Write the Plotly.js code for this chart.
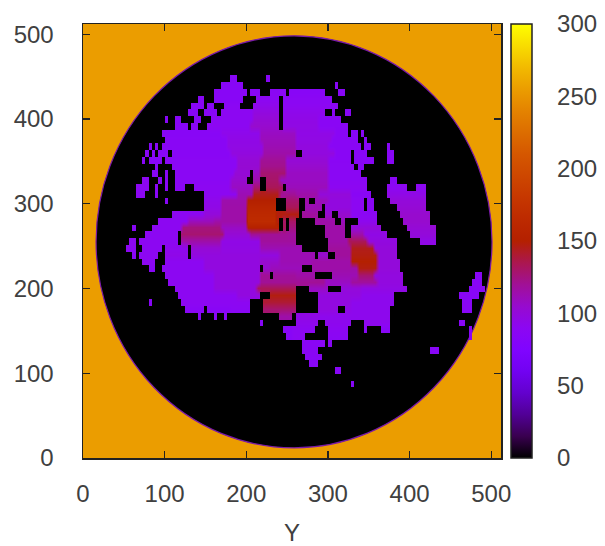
<!DOCTYPE html>
<html><head><meta charset="utf-8">
<script src="https://cdn.plot.ly/plotly-3.0.1.min.js"></script>
<style>html,body{margin:0;padding:0;background:#fff}</style></head>
<body><div id="chart" style="width:605px;height:546px"></div>
<script>
// radar image: each row is a Y value and runs "x0 x1 value"
const radarRows = [
[448,"180 190 85,224 229 85"],
[440,"168 197 85,307 313 85"],
[432,"162 200 85,204 218 85,230 248 88,254 298 85,314 320 85"],
[424,"139 148 85,162 198 85,213 240 90,244 304 88"],
[416,"131 148 85,152 160 85,172 193 88,209 240 93,246 311 90"],
[408,"127 141 85,148 164 85,168 210 90,210 242 98,246 296 93,304 310 85,320 330 85"],
[400,"100 105 85,113 119 85,135 143 85,156 210 90,210 240 102,244 290 95,290 315 87"],
[392,"111 127 85,131 139 85,152 205 90,205 240 105,244 290 96,290 324 87"],
[384,"98 170 85,170 215 93,215 260 108,260 310 95,310 326 86,330 338 85,341 346 85"],
[376,"100 175 86,175 215 95,215 260 110,260 305 96,305 336 86,345 348 85"],
[368,"80 84 85,88 92 85,96 175 86,175 220 96,220 260 112,260 300 98,300 340 86,344 352 85,372 378 85"],
[360,"78 82 85,86 90 85,94 104 85,108 180 86,180 220 98,220 262 115,270 310 98,310 330 86,334 350 85,372 380 85"],
[352,"74 78 85,82 98 85,102 190 88,190 215 102,215 250 120,250 300 102,300 330 87,332 356 85,371 379 85"],
[344,"88 94 85,109 190 88,190 215 103,215 250 122,250 300 105,300 332 88,338 343 85"],
[336,"86 92 85,102 106 85,111 185 88,185 205 102,207 215 108,215 250 128,250 300 108,300 342 88"],
[328,"72 80 90,92 96 85,102 106 85,113 180 88,180 200 105,207 217 115,225 240 130,240 300 108,300 350 88,375 386 86"],
[320,"64 82 90,88 92 85,100 105 85,113 125 88,135 180 90,180 210 108,210 217 128,225 245 133,247 300 110,300 348 90,371 395 90,408 420 90"],
[312,"66 78 90,90 94 85,148 190 90,190 210 112,210 240 145,240 262 120,262 290 115,290 330 100,330 352 86,371 420 95"],
[304,"100 106 85,148 170 93,170 200 114,200 236 150,248 264 128,272 275 115,283 300 110,300 330 98,330 346 90,350 356 86,377 422 100"],
[296,"150 170 95,170 200 115,200 236 158,250 266 133,272 292 112,297 330 98,330 344 90,350 357 86,383 422 102"],
[288,"110 150 90,150 170 100,170 200 115,200 238 163,238 264 147,268 290 118,296 306 105,312 330 105,330 360 88,389 424 105"],
[280,"94 130 90,130 160 110,160 200 115,200 235 166,235 240 147,244 248 130,252 256 130,258 262 130,286 307 115,315 319 110,335 360 92,393 426 105"],
[272,"62 66 85,84 120 90,120 170 125,170 200 108,200 240 153,244 250 133,254 262 125,296 321 115,328 366 100,397 434 102"],
[264,"78 118 90,120 172 128,172 205 102,205 252 120,252 262 118,298 320 115,328 345 115,345 373 95,402 434 100"],
[256,"56 66 90,70 118 90,120 170 115,170 215 95,215 262 118,299 325 115,325 350 133,350 385 98,414 434 95"],
[248,"53 66 90,72 96 90,100 128 92,132 170 102,170 215 96,215 268 112,299 330 118,330 355 145,355 385 100"],
[240,"60 66 85,70 92 90,100 128 94,132 190 98,190 240 98,240 284 112,290 299 105,307 330 118,330 360 147,360 385 100"],
[232,"74 90 90,100 150 90,150 215 98,215 240 105,240 280 112,280 330 115,330 360 150,360 387 100"],
[224,"82 88 85,98 150 90,150 218 98,220 228 105,228 268 110,280 335 115,335 360 147,360 389 100"],
[216,"102 160 90,160 215 98,215 228 120,234 262 118,262 284 115,305 335 112,335 358 128,358 391 98,480 488 85"],
[208,"105 160 90,160 215 98,215 295 120,295 330 108,330 360 118,360 393 98,475 490 85"],
[200,"111 160 90,160 212 98,212 262 133,278 299 108,315 340 100,340 395 96,472 492 85"],
[192,"117 190 90,190 215 98,228 262 147,287 340 98,340 380 92,459 486 85"],
[184,"80 84 85,121 205 90,219 262 140,287 330 98,330 379 92,465 477 85"],
[176,"125 150 86,154 180 86,182 205 88,219 262 128,287 312 98,322 330 95,330 377 92,465 477 85"],
[168,"139 143 85,160 166 85,174 178 85,240 258 115,262 289 95,290 377 92"],
[160,"215 220 85,232 234 85,262 289 93,297 330 92,345 377 92,461 467 85"],
[152,"246 256 85,258 283 90,299 326 90,344 349 85,365 375 85,471 477 85"],
[144,"248 258 85,256 274 90,299 326 88,471 477 85"],
[136,"268 297 86,302 305 85"],
[128,"270 289 86,424 438 85"],
[120,"272 293 86"],
[112,"276 289 85"],
[104,"307 315 85"],
[88,"328 334 85"]
];
const xTicks = [0,100,200,300,400,500];
const yTicks = [0,100,200,300,400,500];
const barTicks = [0,50,100,150,200,250,300];
const backgroundColor = "#eb9d00";
const palette = [
[0,"rgb(0,0,0)"],[0.05,"rgb(57,0,79)"],[0.1,"rgb(81,0,150)"],[0.15,"rgb(99,1,206)"],
[0.2,"rgb(114,2,242)"],[0.25,"rgb(128,4,255)"],[0.3,"rgb(140,7,242)"],[0.35,"rgb(151,11,206)"],
[0.4,"rgb(161,16,150)"],[0.45,"rgb(171,23,79)"],[0.5,"rgb(180,32,0)"],[0.55,"rgb(189,42,0)"],
[0.6,"rgb(198,55,0)"],[0.7,"rgb(213,87,0)"],[0.8,"rgb(228,131,0)"],[0.85,"rgb(235,157,0)"],
[0.9,"rgb(242,186,0)"],[1,"rgb(255,255,0)"]
];
const cols=[],rows=[];
for(let x=0;x<=512;x+=4)cols.push(x+2);
for(let y=0;y<=512;y+=8)rows.push(y);
const z=rows.map(()=>cols.map(()=>null));
radarRows.forEach(([y,s])=>{
  const r=rows.indexOf(y);
  s.split(",").forEach(t=>{
    const [a,b,v]=t.split(" ").map(Number);
    cols.forEach((c,i)=>{if(c>=a&&c<b)z[r][i]=v;});
  });
});
const font={family:"Liberation Sans, Arial, sans-serif",size:24,color:"#404040"};
const axis={range:[0,512],showgrid:false,zeroline:false,ticks:"inside",ticklen:7,tickwidth:1.3,tickcolor:"#222",
  showline:true,linecolor:"#222",linewidth:1.5,mirror:"ticks",tickmode:"array",tickfont:font,layer:"above traces"};
const barX0=1.0239, barX1=1.0742;
const shapes=[{type:"circle",xref:"x",yref:"y",x0:16,x1:501,y0:12,y1:498,fillcolor:"#000",
  line:{color:"#7a1aa8",width:1.2},layer:"below"}];
barTicks.forEach(t=>{
  if(t===0||t===300)return;
  const p=t/300;
  shapes.push({type:"line",xref:"paper",yref:"paper",x0:barX0,x1:barX0+0.014,y0:p,y1:p,line:{color:"#222",width:1.2}});
  shapes.push({type:"line",xref:"paper",yref:"paper",x0:barX1-0.014,x1:barX1,y0:p,y1:p,line:{color:"#222",width:1.2}});
});
Plotly.newPlot("chart",[{type:"heatmap",x:cols,y:rows,z:z,zmin:0,zmax:300,colorscale:palette,hoverongaps:false,zsmooth:"best",
  colorbar:{x:barX0,xanchor:"left",y:0.5,yanchor:"middle",len:1,lenmode:"fraction",thickness:21,thicknessmode:"pixels",
    xpad:0,ypad:0,outlinecolor:"#222",outlinewidth:1.5,ticks:"outside",ticklen:20,tickcolor:"rgba(0,0,0,0)",
    tickmode:"array",tickvals:barTicks,ticktext:barTicks.map(String),tickfont:font}}],
 {width:605,height:546,margin:{l:83,r:104,t:24,b:88,autoexpand:false},paper_bgcolor:"#fff",plot_bgcolor:backgroundColor,showlegend:false,shapes:shapes,
  xaxis:Object.assign({},axis,{tickvals:xTicks,ticktext:xTicks.map(String),ticklabelstandoff:14,
    title:{text:"Y\u00a0",font:font,standoff:26}}),
  yaxis:Object.assign({},axis,{tickvals:yTicks,ticktext:yTicks.map(String),ticklabelstandoff:23})},
 {displayModeBar:false,staticPlot:true});
</script></body></html>
